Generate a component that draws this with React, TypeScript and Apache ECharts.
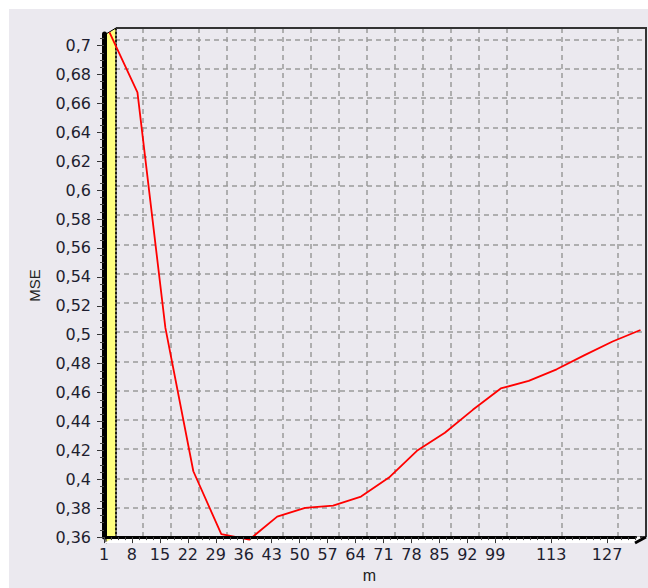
import React, { useEffect, useRef } from "react";
import * as echarts from "echarts";

// ---- data ----
const mValues = [1, 8, 15, 22, 29, 36, 43, 50, 57, 64, 71, 78, 85, 92, 99, 106, 113, 120, 127, 134];
const mseValues = [
  0.707, 0.666, 0.505, 0.407, 0.364, 0.3602, 0.376, 0.382, 0.3835, 0.3897,
  0.4027, 0.421, 0.4333, 0.449, 0.4636, 0.4688, 0.4767, 0.4864, 0.4957, 0.5036,
];
const xTickLabels = [1, 8, 15, 22, 29, 36, 43, 50, 57, 64, 71, 78, 85, 92, 99, 113, 127];
const yTickLabels = [
  0.36, 0.38, 0.4, 0.42, 0.44, 0.46, 0.48, 0.5, 0.52, 0.54, 0.56, 0.58, 0.6,
  0.62, 0.64, 0.66, 0.68, 0.7,
];
const X_MIN = 1;
const X_MAX = 134;
const Y_MIN = 0.36;
const Y_MAX = 0.708;
const X_MINOR_STEP = 1.75;
const Y_MINOR_STEP = 0.005;

const LABEL_FONT = "DejaVu Sans";
const LABEL_COLOR = "#1e1e30";

const fmtY = (v: number) => String(Math.round(v * 100) / 100).replace(".", ",");

const xMinor: number[] = [];
for (let v = X_MIN; v <= X_MAX + 1e-9; v += X_MINOR_STEP) xMinor.push(+v.toFixed(4));
const yMinor: number[] = [];
for (let v = Y_MIN; v <= Y_MAX + 1e-9; v += Y_MINOR_STEP) yMinor.push(+v.toFixed(4));

export default function App() {
  const ref = useRef<HTMLDivElement>(null);

  useEffect(() => {
    if (!ref.current) return;
    const chart = echarts.init(ref.current, null, { renderer: "svg" });

    const gridSize = { width: 531, height: 509 };
    const back = { left: 115, top: 28 };
    const front = { left: 104, top: 34 };
    const mid = { left: 109.5, top: 31 };

    const gridLine = {
      show: true,
      lineStyle: { color: "#9a9a9a", width: 1.5, type: [5, 4] as number[] },
    };

    const option: any = {
      animation: false,
      grid: [
        { ...back, ...gridSize },
        { ...front, ...gridSize },
        { ...mid, ...gridSize },
      ],
      xAxis: [
        {
          gridIndex: 0, type: "value", min: X_MIN, max: X_MAX, position: "bottom",
          axisLine: { show: false },
          axisTick: { show: false, customValues: xTickLabels },
          axisLabel: { show: false, customValues: xTickLabels },
          splitLine: gridLine,
        },
        {
          gridIndex: 1, type: "value", min: X_MIN, max: X_MAX, z: 6, position: "bottom",
          axisLine: { show: true, onZero: false, lineStyle: { color: "#000", width: 3 } },
          axisTick: { show: true, length: 6, customValues: xTickLabels, lineStyle: { color: "#333", width: 1 } },
          axisLabel: {
            customValues: xTickLabels, margin: 9,
            fontFamily: LABEL_FONT, fontSize: 16, color: LABEL_COLOR,
          },
          splitLine: { show: false },
          name: "m", nameLocation: "middle", nameGap: 29,
          nameTextStyle: { fontFamily: "Liberation Sans", fontSize: 16, color: "#222" },
        },
        {
          gridIndex: 2, type: "value", min: X_MIN, max: X_MAX, show: false, position: "bottom",
        },
        {
          gridIndex: 1, type: "value", min: X_MIN, max: X_MAX, z: 6, position: "bottom", offset: 0,
          axisLine: { show: false, onZero: false },
          axisTick: { show: true, length: 3, customValues: xMinor, lineStyle: { color: "#444", width: 1 } },
          axisLabel: { show: false, customValues: xMinor },
          splitLine: { show: false },
        },
      ],
      yAxis: [
        {
          gridIndex: 0, type: "value", min: Y_MIN, max: Y_MAX, position: "left",
          axisLine: { show: false },
          axisTick: { show: false, customValues: yTickLabels },
          axisLabel: { show: false, customValues: yTickLabels },
          splitLine: gridLine,
        },
        {
          gridIndex: 1, type: "value", min: Y_MIN, max: Y_MAX, z: 6, position: "left",
          axisLine: { show: true, onZero: false, lineStyle: { color: "#000", width: 5 } },
          axisTick: { show: true, length: 7, customValues: yTickLabels, lineStyle: { color: "#333", width: 1 } },
          axisLabel: {
            customValues: yTickLabels, margin: 13, formatter: fmtY,
            fontFamily: LABEL_FONT, fontSize: 16, color: LABEL_COLOR,
          },
          splitLine: { show: false },
          name: "MSE", nameLocation: "middle", nameGap: 62, nameRotate: 90,
          nameTextStyle: { fontFamily: "Liberation Sans", fontSize: 15, color: "#222" },
        },
        {
          gridIndex: 2, type: "value", min: Y_MIN, max: Y_MAX, show: false, position: "left",
        },
        {
          gridIndex: 1, type: "value", min: Y_MIN, max: Y_MAX, z: 6, position: "left", offset: 0,
          axisLine: { show: false, onZero: false },
          axisTick: { show: true, length: 4, customValues: yMinor, lineStyle: { color: "#444", width: 1 } },
          axisLabel: { show: false, customValues: yMinor },
          splitLine: { show: false },
        },
      ],
      graphic: [
        // panel
        { type: "rect", z: -10, silent: true, shape: { x: 9, y: 9, width: 700, height: 700 }, style: { fill: "#ebe9ef" } },
        // left wall
        {
          type: "polygon", z: 1, silent: true,
          shape: { points: [[106, 34], [116, 28], [116, 537], [106, 543]] },
          style: { fill: "#ffff80", stroke: "#000", lineWidth: 1 },
        },
        {
          type: "line", z: 1, silent: true,
          shape: { x1: 116, y1: 28, x2: 116, y2: 537 },
          style: { stroke: "#000", lineWidth: 1.5, lineDash: [2, 2] },
        },
        // floor
        {
          type: "polygon", z: 1, silent: true,
          shape: { points: [[104, 543], [115, 537], [646, 537], [635, 543]] },
          style: { fill: "#ffffff" },
        },
        {
          type: "line", z: 1, silent: true,
          shape: { x1: 115, y1: 537, x2: 646, y2: 537 },
          style: { stroke: "#000", lineWidth: 1.5, lineDash: [4, 3] },
        },
        {
          type: "line", z: 6, silent: true,
          shape: { x1: 635, y1: 543, x2: 646, y2: 537 },
          style: { stroke: "#000", lineWidth: 3 },
        },
        // back wall top and right borders
        {
          type: "polyline", z: 1, silent: true,
          shape: { points: [[116, 28], [646, 28], [646, 537]] },
          style: { stroke: "#333", lineWidth: 2, fill: "none" },
        },
      ],
      series: [
        {
          type: "line",
          xAxisIndex: 2,
          yAxisIndex: 2,
          z: 5,
          showSymbol: false,
          symbol: "none",
          clip: false,
          data: mValues.map((m, i) => [m, mseValues[i]]),
          lineStyle: { color: "#ff0000", width: 1.8 },
        },
      ],
    };

    chart.setOption(option);
    return () => chart.dispose();
  }, []);

  return (
    <div
      ref={ref}
      style={{ position: "absolute", left: 0, top: 0, width: 648, height: 588 }}
    />
  );
}
